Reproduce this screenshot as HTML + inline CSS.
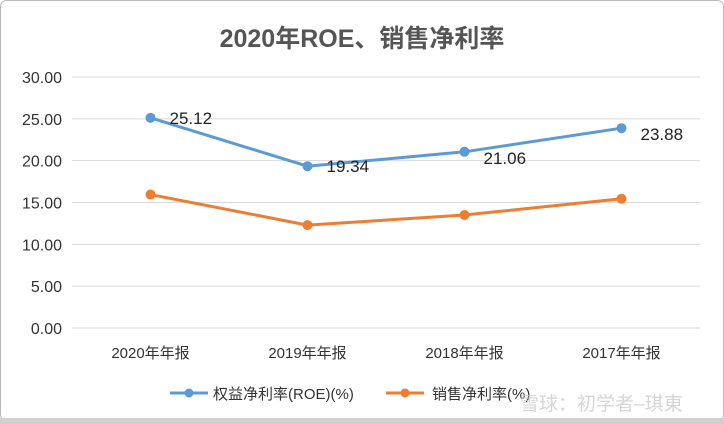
<!DOCTYPE html>
<html><head><meta charset="utf-8"><style>
body{margin:0;background:#fff;}
svg{display:block;font-family:"Liberation Sans","Noto Sans CJK SC",sans-serif;}
</style></head><body>
<svg width="724" height="424">
<rect x="0.5" y="0.5" width="723" height="420" rx="6" fill="#fff" stroke="#bbb"/>
<rect x="0" y="418" width="724" height="6" fill="#d0d0d0"/>
<text x="362" y="47" text-anchor="middle" font-size="25" font-weight="bold" fill="#555">2020年ROE、销售净利率</text>
<g id="grid"></g><g id="series"></g>
<g>
<line x1="170" y1="393" x2="208" y2="393" stroke="#5b9bd5" stroke-width="3"/><circle cx="189" cy="393" r="4.5" fill="#5b9bd5"/>
<text x="213" y="399" font-size="15" fill="#333">权益净利率(ROE)(%)</text>
<line x1="386" y1="393" x2="424" y2="393" stroke="#ed7d31" stroke-width="3"/><circle cx="405" cy="393" r="4.5" fill="#ed7d31"/>
<text x="432" y="399" font-size="15" fill="#333">销售净利率(%)</text>
</g>
<text x="520" y="410" font-size="19" fill="#ccc" fill-opacity="0.8">雪球：初学者–琪東</text>
<script>
const categories=["2020年年报","2019年年报","2018年年报","2017年年报"];
const roe=[25.12,19.34,21.06,23.88];
const margin=[15.95,12.3,13.5,15.45];
const ticks=[0,5,10,15,20,25,30];
const NS="http://www.w3.org/2000/svg";
const x0=72,x1=700,yb=328,yt=77;
const labelDy=[6,6,12,12];
const xs=i=>x0+(x1-x0)/categories.length*(i+0.5);
const ys=v=>yb-(yb-yt)*v/30;
function mk(t,a,p){const e=document.createElementNS(NS,t);for(const k in a)e.setAttribute(k,a[k]);p.appendChild(e);return e;}
const g=document.getElementById('grid'),s=document.getElementById('series');
ticks.forEach(t=>{const l=mk('line',{x1:x0,x2:x1,y1:ys(t),y2:ys(t),stroke:'#d9d9d9'},g);


const tx=mk('text',{x:62,y:ys(t)+6,'text-anchor':'end','font-size':16,fill:'#333'},g);tx.textContent=t.toFixed(2);

});
categories.forEach((c,i)=>{const tx=mk('text',{x:xs(i),y:358,'text-anchor':'middle','font-size':15,fill:'#333'},g);tx.textContent=c;

});
function series(vals,col,name,labels){
const pl=mk('polyline',{points:vals.map((v,i)=>xs(i)+','+ys(v)).join(' '),fill:'none',stroke:col,'stroke-width':3},s);


vals.forEach((v,i)=>{const c=mk('circle',{cx:xs(i),cy:ys(v),r:5,fill:col},s);


if(labels){const t=mk('text',{x:xs(i)+19,y:ys(v)+labelDy[i],'font-size':17,fill:'#222'},s);t.textContent=v.toFixed(2);

}});}
series(roe,'#5b9bd5','roe',true);
series(margin,'#ed7d31','net-margin',false);
</script>
</svg></body></html>
